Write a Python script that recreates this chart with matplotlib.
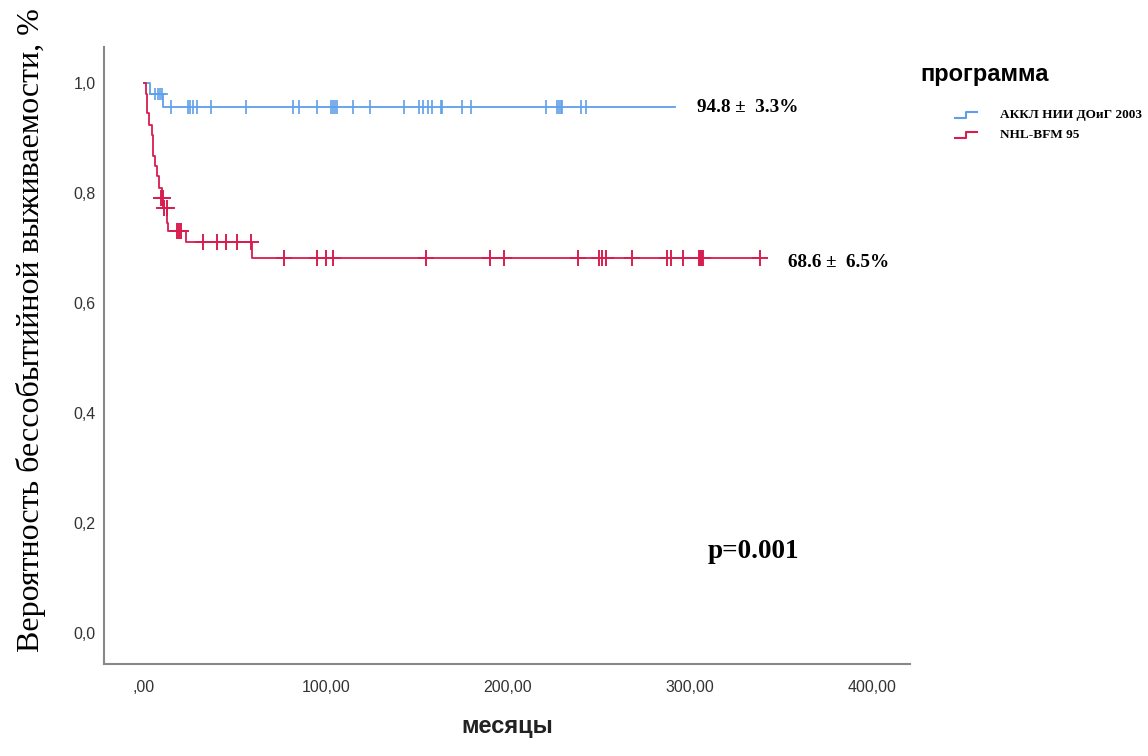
import numpy as np
import matplotlib
matplotlib.use('Agg')
import matplotlib.pyplot as plt
from matplotlib.lines import Line2D

## ---------------------------- DATOS ---------------------------- ##

# АККЛ НИИ ДОиГ 2003
t_akkl = [0.0, 3.3, 10.6, 292.0]
s_akkl = [1.0, 0.98, 0.955, 0.955]
cens_akkl_1 = [6.0, 7.5, 9.0, 10.0]
cens_akkl_2 = [15, 24, 25, 27, 29, 37, 56, 82, 85, 95, 103, 104, 105, 106, 115, 124,
               143, 151, 153.5, 156, 158.5, 163, 164, 175, 180, 221, 227, 228, 229,
               230, 240, 243]

# NHL-BFM 95
t_nhl = [0.0, 0.9, 1.5, 2.9, 4.2, 5.1, 6.0, 7.3, 8.4, 9.7, 10.6, 12.5, 13.4, 23.1, 59.2, 338.7]
s_nhl = [1.0, 0.98, 0.945, 0.924, 0.905, 0.866, 0.848, 0.83, 0.809, 0.791, 0.773,
         0.745, 0.73, 0.71, 0.681, 0.681]
cens_nhl = {0.791: [9.2, 10.3],
            0.773: [11.0, 12.5],
            0.73: [18.0, 19.2, 20.3],
            0.71: [32.6, 39.9, 45.1, 50.9, 59.0],
            0.681: [77, 95, 100, 104, 155, 190, 198, 238.5, 250, 252, 254, 268,
                    287.6, 289.6, 296, 305, 305.5, 306, 306.5, 307, 338.7]}

etiquetas = ['АККЛ НИИ ДОиГ 2003', 'NHL-BFM 95']
xticks = [0, 100, 200, 300, 400]
xtick_lab = [',00', '100,00', '200,00', '300,00', '400,00']
yticks = [0.0, 0.2, 0.4, 0.6, 0.8, 1.0]
ytick_lab = ['0,0', '0,2', '0,4', '0,6', '0,8', '1,0']

azul = '#5f9fea'
rojo = '#d81e50'

fig = plt.figure(figsize=(11.48, 7.56), dpi=100)
ax = fig.add_axes([0.0906, 0.122, 0.702, 0.816])

ax.step(t_akkl, s_akkl, where='post', color=azul, lw=1.3)
ax.plot(cens_akkl_1, [0.98] * len(cens_akkl_1), ls='none', marker='+', ms=8, mew=1.2, color=azul)
ax.plot(cens_akkl_2, [0.955] * len(cens_akkl_2), ls='none', marker='|', ms=10, mew=1.2, color=azul)

ax.step(t_nhl, s_nhl, where='post', color=rojo, lw=1.3)
for nivel, tiempos in cens_nhl.items():
    ax.plot(tiempos, [nivel] * len(tiempos), ls='none', marker='+', ms=11, mew=1.4, color=rojo)

ax.set_xlim(-22, 421)
ax.set_ylim(-0.055, 1.065)

for s in ['top', 'right']:
    ax.spines[s].set_visible(False)
for s in ['left', 'bottom']:
    ax.spines[s].set_color('#888888')
    ax.spines[s].set_linewidth(1.5)

ax.set_xticks(xticks)
ax.set_xticklabels(xtick_lab, fontfamily='Liberation Sans', fontsize=11.5, color='#333333')
ax.set_yticks(yticks)
ax.set_yticklabels(ytick_lab, fontfamily='Liberation Sans', fontsize=11.5, color='#333333')
ax.tick_params(axis='y', length=0, pad=6)
ax.tick_params(axis='x', length=0, pad=12)

ax.set_xlabel('месяцы', fontfamily='Liberation Sans', fontweight='bold', fontsize=17, labelpad=14, color='#222222')
fig.text(0.027, 0.563, 'Вероятность бессобытийной выживаемости, %', rotation=90,
         fontfamily='Liberation Serif', fontsize=23, ha='center', va='center')

ax.text(304, 0.955, '94.8 ±  3.3%', fontfamily='Liberation Serif', fontweight='bold',
        fontsize=13.8, va='center')
ax.text(354, 0.673, '68.6 ±  6.5%', fontfamily='Liberation Serif', fontweight='bold',
        fontsize=13.8, va='center')
ax.text(310, 0.149, 'p=0.001', fontfamily='Liberation Serif', fontweight='bold',
        fontsize=19.5, va='center')

# leyenda tipo SPSS, colocada a mano
W, H = 1148.0, 756.0
fig.text(920 / W, 1 - 75 / H, 'программа', fontfamily='Liberation Sans', fontweight='bold',
         fontsize=17, va='center', ha='left')
for i, (lab, col) in enumerate(zip(etiquetas, [azul, rojo])):
    yc = 115 + 20 * i
    xs = np.array([955, 966, 966, 977]) / W
    ys = 1 - np.array([yc + 3, yc + 3, yc - 3, yc - 3]) / H
    fig.add_artist(Line2D(xs, ys, color=col, lw=1.5, transform=fig.transFigure))
    fig.text(1000 / W, 1 - yc / H, lab, fontfamily='Liberation Serif', fontweight='bold',
             fontsize=9.5, va='center', ha='left')

plt.savefig('out.png', dpi=100)
